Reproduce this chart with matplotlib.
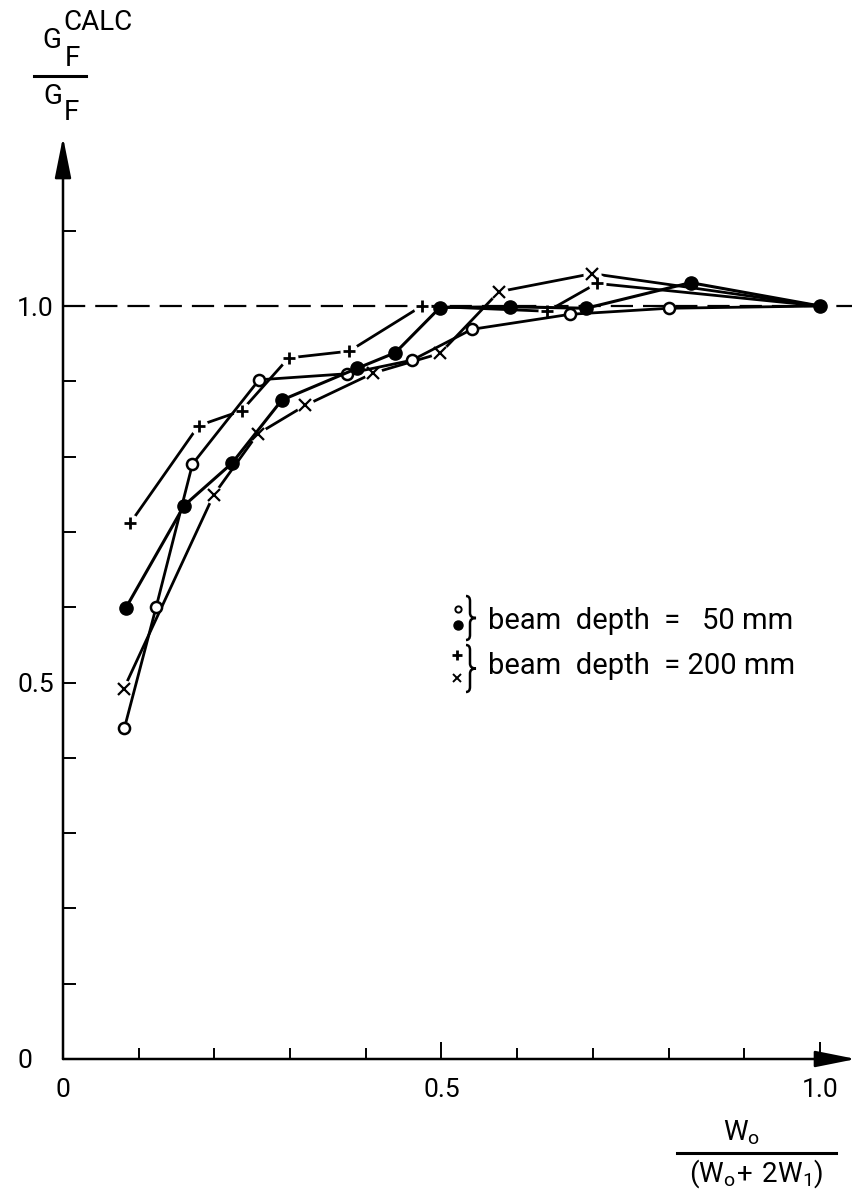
import matplotlib
matplotlib.use('Agg')
import matplotlib.pyplot as plt
from matplotlib.path import Path
from matplotlib.patches import PathPatch

plt.rcParams['font.family'] = ['Roboto', 'DejaVu Sans']

# beam depth 50 mm: open and filled circles
open_x = [0.081, 0.123, 0.171, 0.259, 0.375, 0.461, 0.540, 0.670, 0.800, 1.0]
open_y = [0.439, 0.600, 0.790, 0.902, 0.910, 0.928, 0.969, 0.989, 0.997, 1.0]
filled_x = [0.083, 0.160, 0.223, 0.289, 0.388, 0.439, 0.498, 0.590, 0.691, 0.829, 1.0]
filled_y = [0.599, 0.735, 0.791, 0.875, 0.917, 0.938, 0.998, 0.999, 0.997, 1.031, 1.0]
# beam depth 200 mm: plus and cross
plus_x = [0.089, 0.179, 0.236, 0.298, 0.378, 0.474, 0.640, 0.705, 1.0]
plus_y = [0.712, 0.841, 0.861, 0.931, 0.940, 1.0, 0.993, 1.030, 1.0]
cross_x = [0.080, 0.199, 0.257, 0.320, 0.410, 0.498, 0.576, 0.699, 1.0]
cross_y = [0.491, 0.749, 0.830, 0.868, 0.911, 0.937, 1.019, 1.043, 1.0]

xtick_major = [0.0, 0.5, 1.0]
xtick_labels = ['0', '0.5', '1.0']
ytick_major = [0.0, 0.5, 1.0]
ytick_labels = ['0', '0.5', '1.0']
minor_ticks = [0.1, 0.2, 0.3, 0.4, 0.6, 0.7, 0.8, 0.9, 1.1]

W, H = 853, 1190
x0, y0 = 63, 1059        # pixel position of the origin
sx, sy = 757, 753        # pixels per unit
ytop = 137

fig = plt.figure(figsize=(W / 100, H / 100), dpi=100)
ax = fig.add_axes([x0 / W, (H - y0) / H, (W - x0) / W, (y0 - ytop) / H])
xmax = (W - x0) / sx
ymax = (y0 - ytop) / sy
ax.set_xlim(0, xmax)
ax.set_ylim(0, ymax)
for s in ax.spines.values():
    s.set_visible(False)

# axes with arrows
arr = dict(arrowstyle='-|>,head_length=2.5,head_width=0.5', mutation_scale=10,
           lw=1.8, color='black', shrinkA=0, shrinkB=0)
ax.annotate('', xy=(0, ymax), xytext=(0, 0), arrowprops=arr, annotation_clip=False)
ax.annotate('', xy=(xmax + 0.004, 0), xytext=(0, 0), arrowprops=arr, annotation_clip=False)

# reference line
ax.axhline(1.0, color='black', lw=1.6, dashes=(10, 4.5), zorder=1)

# 200 mm series: lines broken around the markers
ax.plot(plus_x, plus_y, color='black', lw=2.0, zorder=2)
ax.plot(cross_x, cross_y, color='black', lw=2.0, zorder=2)
ax.plot(plus_x[:-1], plus_y[:-1], 'o', ms=13, mfc='white', mec='none', zorder=3)
ax.plot(cross_x[:-1], cross_y[:-1], 'o', ms=13, mfc='white', mec='none', zorder=3)
ax.plot(plus_x[:-1], plus_y[:-1], '+', ms=9, mew=2.0, color='black', zorder=6)
ax.plot(cross_x[:-1], cross_y[:-1], 'x', ms=8.5, mew=1.6, color='black', zorder=6)

# 50 mm series
ax.plot(open_x, open_y, color='black', lw=2.0, zorder=4)
ax.plot(open_x[:-1], open_y[:-1], 'o', ms=8, mfc='white', mec='black', mew=1.8, zorder=5)
ax.plot(filled_x, filled_y, color='black', lw=2.2, marker='o', ms=9.5, mfc='black',
        mec='black', zorder=5)

# ticks
ax.set_xticks(xtick_major)
ax.set_xticklabels(xtick_labels)
ax.set_xticks(minor_ticks[:-1], minor=True)
ax.set_yticks(ytick_major)
ax.set_yticklabels(ytick_labels, ha='left')
ax.set_yticks(minor_ticks, minor=True)
ax.tick_params(axis='x', which='major', direction='in', length=12, width=1.4,
               pad=14, labelsize=19)
ax.tick_params(axis='x', which='minor', direction='in', length=8, width=1.4)
ax.tick_params(axis='y', which='both', direction='in', length=9, width=1.4,
               pad=33, labelsize=19)


def fx(px):
    return px / W


def fy(py):
    return 1 - py / H


def brace(xl, ytop_px, ybot_px, xtip):
    # thin curly brace, pixel coordinates (y downwards)
    xv = xl + 4
    ym = (ytop_px + ybot_px) / 2
    pts = [(xl, ytop_px), (xv, ytop_px), (xv, ytop_px + 5),
           (xv, ym - 5), (xv, ym), (xtip, ym),
           (xv, ym), (xv, ym + 5),
           (xv, ybot_px - 5), (xv, ybot_px), (xl, ybot_px)]
    codes = [Path.MOVETO, Path.CURVE3, Path.CURVE3,
             Path.LINETO, Path.CURVE3, Path.CURVE3,
             Path.CURVE3, Path.CURVE3,
             Path.LINETO, Path.CURVE3, Path.CURVE3]
    verts = [(fx(a), fy(b)) for a, b in pts]
    fig.add_artist(PathPatch(Path(verts, codes), fill=False, lw=1.8,
                             edgecolor='black', transform=fig.transFigure))


# y label: G_F^CALC / G_F
fs = 20
fig.text(fx(52), fy(41), 'G', fontsize=fs, ha='center', va='center')
fig.text(fx(63), fy(22), 'CALC', fontsize=fs, ha='left', va='center')
fig.text(fx(72), fy(59), 'F', fontsize=fs, ha='center', va='center')
fig.add_artist(plt.Line2D([fx(34), fx(86)], [fy(76), fy(76)], color='black', lw=2.2))
fig.text(fx(53), fy(96), 'G', fontsize=fs, ha='center', va='center')
fig.text(fx(71), fy(113), 'F', fontsize=fs, ha='center', va='center')

# x label: W_o / (W_o + 2W_1)
fig.text(fx(742), fy(1133), r'$\mathregular{W_o}$', fontsize=20, ha='center', va='center')
fig.add_artist(plt.Line2D([fx(677), fx(836)], [fy(1153), fy(1153)], color='black', lw=2.2))
fig.text(fx(756), fy(1174), r'$\mathregular{(W_o\!+\,2W_1)}$', fontsize=20,
         ha='center', va='center')

# legend
fig.text(fx(488), fy(621), 'beam  depth  =   50 mm', fontsize=21, ha='left', va='center')
fig.text(fx(488), fy(666), 'beam  depth  = 200 mm', fontsize=21, ha='left', va='center')
brace(466, 596, 640, 476)
brace(466, 645, 692, 476)
fig.add_artist(plt.Line2D([fx(458)], [fy(609)], marker='o', ms=4.5, mfc='white',
                          mec='black', mew=1.4))
fig.add_artist(plt.Line2D([fx(458)], [fy(625)], marker='o', ms=6.5, mfc='black',
                          mec='black'))
fig.add_artist(plt.Line2D([fx(457)], [fy(655)], marker='+', ms=6.5, mew=2.0, color='black'))
fig.add_artist(plt.Line2D([fx(457)], [fy(678)], marker='x', ms=6, mew=1.4, color='black'))

fig.savefig('out.png', dpi=100)
